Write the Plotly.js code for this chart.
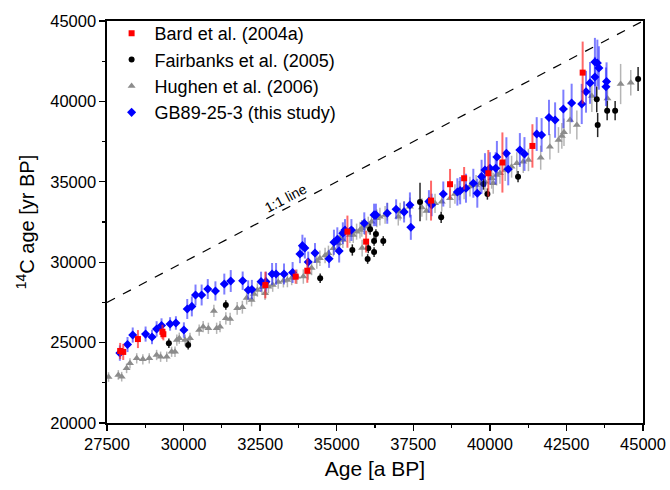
<!DOCTYPE html>
<html>
<head>
<meta charset="utf-8">
<script src="https://cdn.plot.ly/plotly-3.0.1.min.js"></script>
<style>html,body{margin:0;padding:0;background:#fff;}#chart{width:670px;height:490px;}</style>
</head>
<body>
<div id="chart"></div>
<script>
// ---- Data (calendar age [a BP] vs 14C age [yr BP]) ----
const seriesNames = ["Bard et al. (2004a)", "Fairbanks et al. (2005)", "Hughen et al. (2006)", "GB89-25-3 (this study)"];

const bardAge = [27930,28030,28510,29310,29340,32670,33660,34040,35350,35960,38080,38700,39160,39950,40410,41390,43030];
const bardC14 = [24480,24420,25220,25670,25520,28580,29100,29470,31900,31280,33830,34850,35220,35530,36200,37230,41790];
const bardErr = [500,500,560,440,380,830,440,750,1000,680,1240,950,700,1450,1870,1350,1930];

const fairAge = [29520,30150,31380,34460,35510,36010,36030,36090,36220,36280,36220,36520,37720,38410,39790,39920,40920,43490,43520,43830,44090,44840];
const fairC14 = [24960,24850,27340,29000,30760,30200,30860,32050,31320,31750,30630,31320,33740,32790,34860,34240,35320,40130,38530,39420,39420,41390];
const fairErr = [300,280,300,300,350,300,300,350,300,300,300,300,1200,350,350,350,350,800,750,600,600,750];

const hughAge = [27550,27870,27980,28140,28250,28470,28670,28880,29120,29250,
  29450,29610,29720,29780,29860,30050,30210,30510,30640,30810,
  30990,31080,31190,31380,31520,31750,31920,32060,32220,32300,
  32410,32560,32660,32770,32910,33090,33260,33390,33530,33700,
  33910,34070,34180,34350,34450,34620,34730,34890,35050,35110,
  35200,35430,35540,35650,35760,35820,35830,35920,36030,36140,
  36310,36410,36580,36650,37010,37070,37200,37390,37780,37930,
  38210,38430,38700,38860,39000,39160,39350,39550,39680,39840,
  40060,40110,40220,40330,40500,40710,40880,41090,41260,41660,
  41960,42240,42350,42420,42620,42840,43330,43840,44270,44600];
const hughC14 = [22860,22990,22880,23400,23710,24020,23960,24020,24230,24120,
  24120,24430,24430,25160,25270,25160,25270,25780,25990,25890,
  26970,25890,25990,26510,26470,27130,27200,27770,27650,28020,
  28270,28440,28070,28480,28580,28770,28850,28890,29020,29100,
  29110,29360,29640,30070,30240,30420,30550,30860,31180,31490,
  31380,31690,31690,31900,32000,32110,30880,32210,32310,32520,
  32730,32830,32940,33140,32830,33140,33250,33450,33400,33180,
  33660,33760,33970,34240,34450,34530,34700,34800,34910,35010,
  35220,34910,35420,35530,35730,35940,36150,36250,36360,36500,
  37180,37600,37850,38080,38840,38530,40340,40180,41080,41160];
const hughErr = [300,300,300,300,320,320,320,320,320,320,
  320,320,320,350,350,350,350,350,350,350,
  380,350,350,380,380,400,400,400,400,400,
  420,420,420,420,420,420,420,450,450,450,
  450,450,450,480,480,480,480,500,500,500,
  500,500,500,500,520,520,520,520,520,520,
  550,550,550,550,550,550,550,580,580,580,
  600,600,600,600,600,620,620,620,620,650,
  650,650,650,650,680,680,680,700,700,750,
  800,800,800,850,850,900,1000,900,1250,800];

const gbAge = [27920,28170,28340,28760,28970,29120,29280,29560,29750,30010,
  30120,30270,30390,30590,30790,31040,31330,31540,31930,32110,
  32230,32530,32690,32890,33020,33280,33560,33800,33880,33960,
  34070,34290,34750,34910,35020,35080,35200,35270,35480,35900,
  36220,36280,36650,36940,37200,37390,37420,38010,38100,38480,
  38940,39030,39220,39460,39590,39730,39840,40000,40190,40230,
  40540,40600,40980,41130,41530,41690,41930,42130,42400,42670,
  43000,43140,43270,43430,43510,43560,43430,43810,43790];
const gbC14 = [24350,24880,25470,25530,25350,25850,26060,26160,26220,25780,
  27090,27250,27960,27960,28330,28210,28640,28830,28850,28270,
  28300,28790,28790,29270,29270,29270,29360,30510,31030,30880,
  30010,30570,30210,31240,31420,30700,31800,32000,32000,32420,
  32940,32940,33040,33290,33120,33560,32170,33780,33560,34240,
  34370,34450,34600,34910,34290,35320,35730,35840,35840,36540,
  36770,35780,36980,36730,37970,37910,39000,38840,39530,39900,
  39840,40600,41150,42450,42390,42080,41520,41230,40910];
const gbErr = [480,470,470,470,450,480,450,420,420,480,
  620,620,650,650,620,600,650,680,570,600,
  600,620,620,680,680,650,650,570,680,650,
  650,620,560,780,750,720,680,680,680,680,
  700,700,650,620,650,780,780,700,700,780,
  850,850,900,900,900,1050,1050,1000,1000,1000,
  1000,1000,1050,1050,1050,1050,1100,1100,1200,1200,
  1250,1300,1300,1500,1450,1350,1250,1200,1200];

const oneToOne = [27500, 45000];
const xTicks = [27500,30000,32500,35000,37500,40000,42500,45000];
const yTicks = [20000,25000,30000,35000,40000,45000];

const FONT = "Liberation Sans, Arial, sans-serif";

function errTrace(name, x, y, err, symbol, size, color, errColor, errThick, rank) {
  return {
    type: "scatter", mode: "markers", name: name, x: x, y: y, legendrank: rank,
    marker: {symbol: symbol, size: size, color: color, line: {width: 0}},
    error_y: {type: "data", array: err, visible: true, color: errColor, thickness: errThick, width: 0}
  };
}

const traces = [
  {type: "scatter", mode: "lines", x: oneToOne, y: oneToOne, showlegend: false,
   line: {color: "#000", width: 1.2, dash: "dash"}, hoverinfo: "skip"},
  errTrace(seriesNames[2], hughAge, hughC14, hughErr, "triangle-up", 7, "#8c8c8c", "rgba(150,150,150,0.7)", 1.5, 3),
  errTrace(seriesNames[1], fairAge, fairC14, fairErr, "circle", 6, "#000000", "rgba(0,0,0,0.85)", 1.5, 2),
  errTrace(seriesNames[3], gbAge, gbC14, gbErr, "diamond", 7, "#0000ff", "rgba(40,40,255,0.6)", 2, 4),
  errTrace(seriesNames[0], bardAge, bardC14, bardErr, "square", 6, "#ff0000", "rgba(255,40,40,0.7)", 2, 1)
];

const axisCommon = {
  showline: true, linecolor: "#000", linewidth: 1.6, mirror: true,
  ticks: "outside", ticklen: 6, tickwidth: 1.3, tickcolor: "#000",
  showgrid: false, zeroline: false,
  tickfont: {family: FONT, size: 16.5, color: "#000"}
};

const layout = {
  width: 670, height: 490,
  margin: {l: 107, r: 27, t: 21, b: 67},
  paper_bgcolor: "#fff", plot_bgcolor: "#fff",
  showlegend: true,
  legend: {
    x: 0.003, y: 1.015, xanchor: "left", yanchor: "top",
    font: {family: FONT, size: 18, color: "#000"},
    bgcolor: "rgba(0,0,0,0)", traceorder: "normal", itemwidth: 36,
    tracegroupgap: 0
  },
  xaxis: Object.assign({}, axisCommon, {
    range: [27500, 45000], tickvals: xTicks, ticktext: xTicks.map(String),
    minor: {ticks: "outside", ticklen: 3.5, tickwidth: 1.2, tickcolor: "#000", dtick: 1250, tick0: 27500},
    title: {text: "Age [a BP]", font: {family: FONT, size: 21, color: "#000"}, standoff: 9}
  }),
  yaxis: Object.assign({}, axisCommon, {
    range: [20000, 45000], tickvals: yTicks, ticktext: yTicks.map(String),
    minor: {ticks: "outside", ticklen: 3.5, tickwidth: 1.2, tickcolor: "#000", dtick: 2500, tick0: 20000},
    title: {text: "<sup>14</sup>C age [yr BP]", font: {family: FONT, size: 20, color: "#000"}, standoff: 10}
  }),
  annotations: [{
    x: 33340, y: 33990, xref: "x", yref: "y", text: "1:1 line", showarrow: false,
    textangle: -27.7, font: {family: FONT, size: 14, color: "#000"}
  }]
};

Plotly.newPlot("chart", traces, layout, {displayModeBar: false, staticPlot: true});
</script>
</body>
</html>
